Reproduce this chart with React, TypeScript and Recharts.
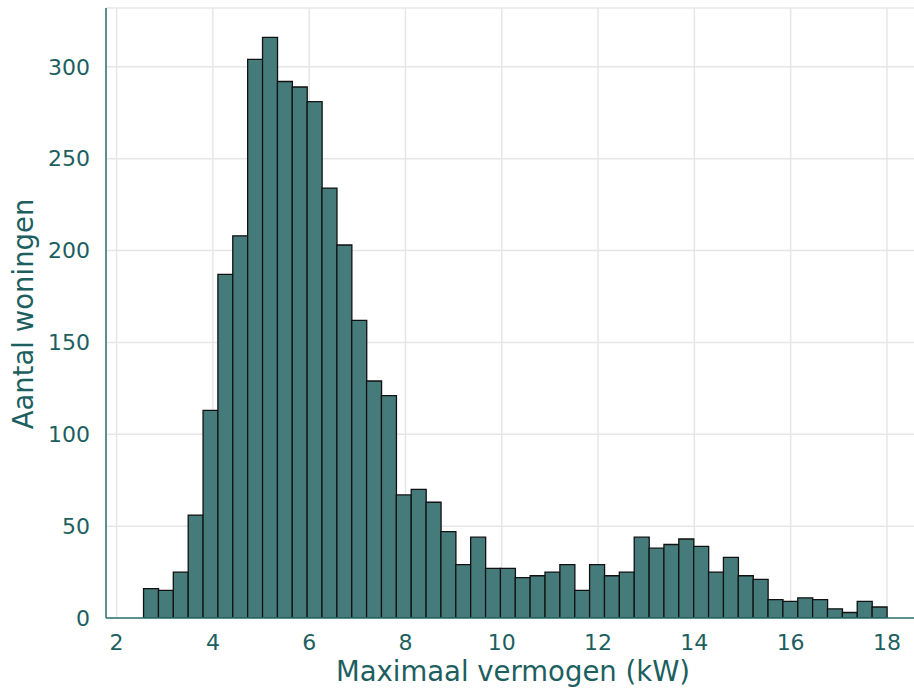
import React from 'react';
import { ComposedChart, Bar, XAxis, YAxis, CartesianGrid, Label } from 'recharts';

// Histogram bin centres (kW)
const binCenters = [
  2.714, 3.023, 3.332, 3.641, 3.95, 4.258, 4.567, 4.876, 5.185, 5.494,
  5.802, 6.111, 6.42, 6.729, 7.038, 7.346, 7.655, 7.964, 8.273, 8.582,
  8.89, 9.199, 9.508, 9.817, 10.126, 10.434, 10.743, 11.052, 11.361, 11.67,
  11.978, 12.287, 12.596, 12.905, 13.214, 13.522, 13.831, 14.14, 14.449, 14.758,
  15.066, 15.375, 15.684, 15.993, 16.302, 16.61, 16.919, 17.228, 17.537, 17.846,
];

// Number of dwellings per bin
const counts = [
  16, 15, 25, 56, 113, 187, 208, 304, 316, 292,
  289, 281, 234, 203, 162, 129, 121, 67, 70, 63,
  47, 29, 44, 27, 27, 22, 23, 25, 29, 15,
  29, 23, 25, 44, 38, 40, 43, 39, 25, 33,
  23, 21, 10, 9, 11, 10, 5, 3, 9, 6,
];

const xTicks = [2, 4, 6, 8, 10, 12, 14, 16, 18];
const yTicks = [0, 50, 100, 150, 200, 250, 300];

const xLabel = 'Maximaal vermogen (kW)';
const yLabel = 'Aantal woningen';

const data = binCenters.map((x, i) => ({ x, count: counts[i] }));

const TEXT = '#1d5f5f';
const SPINE = '#2b7373';
const FONT = 'DejaVu Sans, sans-serif';

export default function App() {
  return (
    <div style={{ position: 'absolute', left: 0, top: 0, width: 914, height: 688, overflow: 'hidden', background: '#fff', fontFamily: FONT }}>
      <ComposedChart
        width={924}
        height={688}
        data={data}
        margin={{ top: 8, right: 0, bottom: 0, left: 0 }}
        barCategoryGap={0}
        barGap={0}
      >
        <CartesianGrid stroke="#e6e6e6" strokeWidth={1.5} />
        <XAxis
          dataKey="x"
          type="number"
          domain={[1.78, 18.77]}
          ticks={xTicks}
          allowDataOverflow
          height={70}
          tickSize={0}
          tickMargin={16}
          tickLine={false}
          axisLine={{ stroke: SPINE, strokeWidth: 1.5 }}
          tick={{ fill: TEXT, fontSize: 22, fontFamily: FONT }}
        >
          <Label
            content={() => (
              <text
                x={513}
                y={681}
                textAnchor="middle"
                fill={TEXT}
                fontSize={27.5}
                fontFamily={FONT}
              >
                {xLabel}
              </text>
            )}
          />
        </XAxis>
        <YAxis
          type="number"
          domain={[0, 332]}
          ticks={yTicks}
          allowDataOverflow
          width={106}
          tickSize={0}
          tickMargin={16}
          tickLine={false}
          axisLine={{ stroke: SPINE, strokeWidth: 1.5 }}
          tick={{ fill: TEXT, fontSize: 22, fontFamily: FONT }}
        >
          <Label
            content={({ viewBox }: any) => {
              const cx = 33;
              const cy = viewBox.y + viewBox.height / 2 + 1;
              return (
                <text
                  x={cx}
                  y={cy}
                  transform={`rotate(-90, ${cx}, ${cy})`}
                  textAnchor="middle"
                  fill={TEXT}
                  fontSize={27.5}
                  fontFamily={FONT}
                >
                  {yLabel}
                </text>
              );
            }}
          />
        </YAxis>
        <Bar
          dataKey="count"
          fill="#457b7b"
          stroke="#111"
          strokeWidth={1.3}
          isAnimationActive={false}
        />
      </ComposedChart>
    </div>
  );
}
